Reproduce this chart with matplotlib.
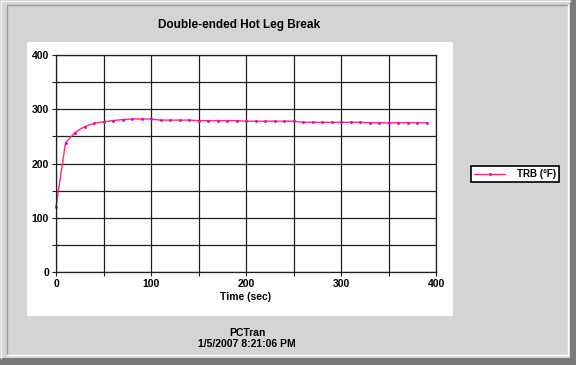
import numpy as np
import matplotlib.pyplot as plt
from matplotlib.patches import Rectangle
from matplotlib.lines import Line2D

plt.rcParams['font.family'] = ['Liberation Sans', 'DejaVu Sans']

time_sec = [0, 10, 20, 30, 40, 50, 60, 70, 80, 90,
            100, 110, 120, 130, 140, 150, 160, 170, 180, 190,
            200, 210, 220, 230, 240, 250, 260, 270, 280, 290,
            300, 310, 320, 330, 340, 350, 360, 370, 380, 390]
trb = [120, 238, 257, 268, 274, 277, 279, 281, 282, 282,
       282, 280, 280, 280, 280, 279, 279, 279, 279, 279,
       278, 278, 278, 278, 278, 278, 276, 276, 276, 276,
       276, 276, 276, 275, 275, 275, 275, 275, 275, 275]

title = "Double-ended Hot Leg Break"
series_label = "TRB (°F)"
x_ticks = [0, 100, 200, 300, 400]
y_ticks = [0, 100, 200, 300, 400]

W, H = 576, 365
fig = plt.figure(figsize=(W / 100, H / 100), dpi=100, facecolor='#d4d4d4')

def fx(px):
    return px / W

def fy(py):
    return 1 - py / H

# window borders
fig.patches.append(Rectangle((0, 0), 1, (H - 358) / H, transform=fig.transFigure,
                             facecolor='#7a7a7a', edgecolor='none', zorder=-1))
fig.patches.append(Rectangle((fx(570), 0), fx(6), 1, transform=fig.transFigure,
                             facecolor='#7a7a7a', edgecolor='none', zorder=-1))
fig.lines.append(Line2D([fx(7), fx(7), fx(568)], [fy(355), fy(5), fy(5)],
                        transform=fig.transFigure, color='#9a9a9a', lw=1))
fig.lines.append(Line2D([fx(7), fx(568), fx(568)], [fy(355), fy(355), fy(5)],
                        transform=fig.transFigure, color='white', lw=1))
fig.lines.append(Line2D([fx(1), fx(1), fx(570)], [fy(358), fy(1), fy(1)],
                        transform=fig.transFigure, color='#f2f2f2', lw=1))

# white chart panel
fig.patches.append(Rectangle((fx(27), fy(316)), fx(426), (316 - 42) / H,
                             transform=fig.transFigure, facecolor='white',
                             edgecolor='none', zorder=-1))

fig.text(fx(239), fy(25), title, ha='center', va='center', fontsize=8.5, fontweight='bold')

ax = fig.add_axes([fx(56), fy(272), fx(380), (272 - 55) / H])
ax.set_zorder(2)
ax.set_facecolor('white')
ax.plot(time_sec, trb, '-', color='#ff2a66', lw=1.0, marker='.', markersize=2.2,
        markerfacecolor='#e000e0', markeredgecolor='#e000e0', label=series_label,
        clip_on=False)

ax.set_xlim(0, 400)
ax.set_ylim(0, 400)
ax.set_xticks(x_ticks)
ax.set_yticks(y_ticks)
ax.set_xticks(np.arange(0, 401, 50), minor=True)
ax.set_yticks(np.arange(0, 401, 50), minor=True)
ax.grid(True, which='both', color='#202020', lw=0.9)
ax.set_axisbelow(True)
for s in ax.spines.values():
    s.set_color('#202020')
    s.set_linewidth(0.9)
ax.tick_params(which='both', direction='out', length=3, width=0.8, colors='#202020',
               labelsize=7.5, labelcolor='black', pad=2)
for lbl in ax.get_xticklabels() + ax.get_yticklabels():
    lbl.set_fontweight('bold')
ax.set_xlabel("Time (sec)", fontsize=7.5, fontweight='bold', labelpad=2)

leg = fig.legend(loc='center', bbox_to_anchor=(fx(515), fy(174)),
                 fancybox=False, edgecolor='black', framealpha=1, handlelength=3.2,
                 borderpad=0.3, handletextpad=1.2, prop={'weight': 'bold', 'size': 7})
leg.get_frame().set_linewidth(1.2)

fig.text(fx(247), fy(333), "PCTran", ha='center', va='center', fontsize=7.5, fontweight='bold')
fig.text(fx(247), fy(344), "1/5/2007 8:21:06 PM", ha='center', va='center', fontsize=7.5,
         fontweight='bold')

fig.savefig('out.png', dpi=100, facecolor=fig.get_facecolor())
